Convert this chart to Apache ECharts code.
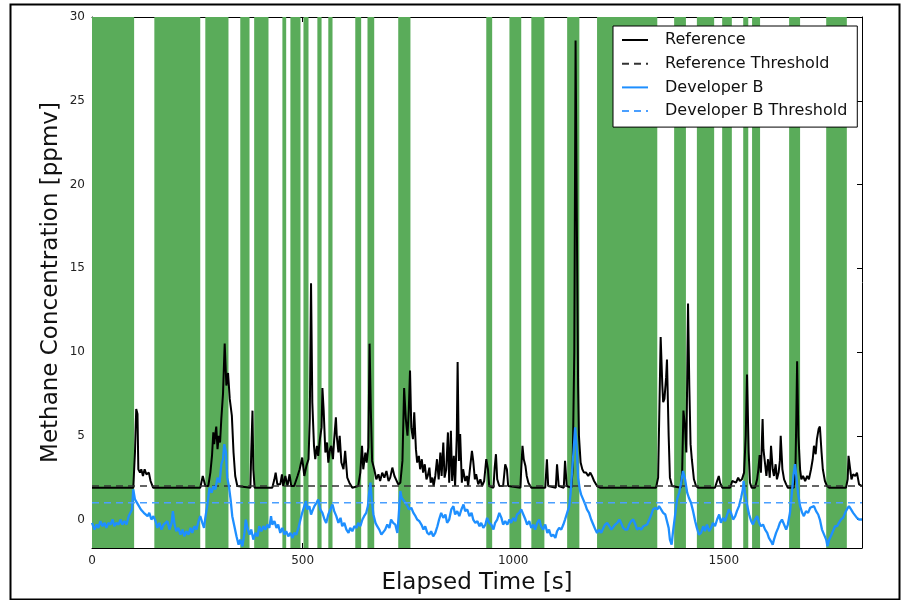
<!DOCTYPE html>
<html>
<head>
<meta charset="utf-8">
<title>Methane Concentration</title>
<script src="https://cdn.jsdelivr.net/npm/echarts@6.0.0/dist/echarts.min.js"></script>
<style>
  html, body { margin: 0; padding: 0; background: #fff; }
  #chart { width: 902px; height: 600px; }
</style>
</head>
<body>
<div id="chart"></div>
<script>
// ---- data ----
const timeMin = 0;
const timeMax = 1828;
const concMin = -1.7;
const concMax = 30;

const xTicks = [0, 500, 1000, 1500];
const yTicks = [0, 5, 10, 15, 20, 25, 30];

// intervals (s) shaded green
const bandStart = [0, 148, 269, 352, 385, 452, 471, 502, 535, 561, 625, 654, 727,
  936, 991, 1043, 1128, 1199, 1382, 1436, 1496, 1546, 1567, 1655, 1743];
const bandEnd = [100, 257, 324, 374, 419, 461, 495, 514, 545, 571, 639, 670, 756,
  950, 1019, 1074, 1157, 1342, 1410, 1477, 1519, 1558, 1586, 1681, 1792];

const refThreshold = 2.0;
const devThreshold = 1.0;

// Reference analyser
const refTime = [0, 98, 102, 105, 108, 110, 114, 117, 121, 125, 129, 135, 139, 145, 257, 263, 269, 276, 281, 285,
  288, 290, 295, 298, 301, 304, 307, 311, 315, 319, 323, 327, 332, 336, 340, 345, 349, 376, 378, 381,
  383, 386, 428, 433, 436, 440, 447, 451, 454, 459, 464, 469, 473, 480, 488, 493, 499, 504, 509, 514,
  517, 520, 523, 527, 530, 534, 537, 541, 545, 547, 550, 554, 558, 561, 565, 568, 572, 575, 579, 581,
  585, 588, 592, 597, 601, 606, 611, 618, 632, 637, 641, 644, 649, 652, 656, 659, 662, 665, 670, 675,
  680, 684, 689, 694, 699, 704, 708, 713, 718, 722, 727, 732, 737, 741, 745, 749, 752, 755, 758, 762,
  765, 769, 772, 776, 779, 783, 786, 790, 794, 797, 801, 804, 808, 811, 815, 819, 823, 827, 830, 834,
  837, 841, 845, 848, 852, 855, 859, 862, 866, 868, 871, 874, 878, 881, 886, 890, 893, 898, 902, 905,
  909, 912, 917, 922, 926, 931, 936, 940, 943, 953, 956, 959, 962, 967, 976, 981, 985, 988, 1017, 1019,
  1022, 1025, 1029, 1032, 1036, 1043, 1076, 1080, 1083, 1101, 1104, 1108, 1120, 1123, 1127, 1138, 1141, 1145, 1148, 1151,
  1154, 1156, 1160, 1164, 1168, 1173, 1178, 1183, 1187, 1192, 1199, 1206, 1339, 1344, 1348, 1350, 1354, 1356, 1359, 1363,
  1365, 1369, 1372, 1377, 1381, 1398, 1401, 1404, 1408, 1411, 1415, 1418, 1421, 1424, 1429, 1434, 1439, 1479, 1484, 1488,
  1491, 1496, 1515, 1520, 1524, 1529, 1534, 1538, 1543, 1548, 1552, 1555, 1559, 1562, 1566, 1574, 1579, 1582, 1585, 1588,
  1592, 1594, 1598, 1601, 1605, 1609, 1612, 1616, 1619, 1623, 1626, 1630, 1633, 1635, 1639, 1643, 1648, 1652, 1666, 1670,
  1672, 1674, 1677, 1681, 1684, 1688, 1693, 1698, 1702, 1707, 1711, 1714, 1718, 1721, 1725, 1728, 1732, 1735, 1740, 1745,
  1750, 1790, 1794, 1796, 1800, 1803, 1807, 1812, 1816, 1821, 1828];
const refConc = [1.9, 1.9, 4.0, 6.6, 6.3, 3.0, 2.8, 3.0, 2.6, 3.0, 2.7, 2.8, 2.3, 1.9, 1.9, 2.6, 2.0, 2.0, 2.8, 3.85,
  5.2, 4.5, 5.55, 4.2, 5.0, 4.6, 6.0, 7.5, 10.5, 8.0, 8.75, 7.2, 6.2, 4.0, 2.6, 2.0, 1.9, 1.9, 4.0, 6.5,
  3.0, 1.9, 1.9, 2.4, 2.8, 2.1, 2.1, 2.7, 2.0, 2.6, 2.0, 2.7, 2.0, 2.0, 2.6, 3.0, 3.7, 2.6, 3.2, 3.6,
  6.0, 14.1, 7.0, 4.4, 3.6, 4.4, 3.8, 4.8, 5.5, 7.85, 6.5, 4.0, 4.6, 3.4, 4.2, 4.4, 3.6, 4.8, 6.1, 5.0,
  4.0, 5.0, 3.4, 3.0, 4.1, 2.5, 2.2, 1.9, 2.0, 2.8, 4.4, 3.0, 4.0, 3.4, 4.3, 10.5, 6.5, 3.5, 3.0, 2.4,
  2.7, 2.3, 2.8, 2.5, 2.9, 2.3, 2.5, 3.1, 2.6, 2.7, 2.1, 2.2, 3.5, 7.85, 6.0, 5.0, 6.5, 8.9, 5.5, 4.8,
  6.4, 4.2, 3.4, 3.8, 3.0, 3.6, 2.8, 3.3, 2.4, 2.6, 3.1, 2.2, 2.5, 2.0, 2.6, 3.6, 2.4, 4.0, 2.6, 4.6,
  2.5, 3.0, 5.2, 2.2, 5.3, 2.3, 3.8, 2.0, 5.0, 9.4, 3.5, 5.1, 2.2, 3.0, 2.3, 2.6, 2.0, 3.2, 4.1, 3.5,
  2.4, 2.7, 2.1, 2.4, 2.0, 2.3, 3.6, 3.0, 2.0, 1.9, 3.1, 3.9, 2.4, 2.0, 2.0, 3.3, 3.0, 2.0, 1.9, 3.0,
  4.4, 3.6, 3.2, 2.6, 2.2, 1.9, 1.9, 3.6, 2.0, 1.9, 3.3, 2.0, 1.9, 3.5, 2.0, 1.9, 3.0, 10.0, 28.6, 18.0,
  8.0, 5.0, 3.4, 3.0, 2.8, 2.8, 2.6, 2.8, 2.6, 2.3, 2.0, 1.9, 1.9, 2.5, 8.0, 10.9, 8.0, 7.0, 7.2, 8.5,
  9.55, 5.0, 2.5, 2.0, 1.9, 1.9, 2.8, 6.5, 5.5, 4.0, 12.9, 8.0, 4.5, 3.6, 2.4, 2.0, 1.9, 1.9, 2.3, 2.6,
  2.2, 1.9, 1.9, 2.3, 2.4, 2.2, 2.5, 2.3, 2.4, 2.8, 5.0, 8.65, 4.0, 2.2, 1.9, 1.9, 2.4, 3.0, 3.85, 2.8,
  6.0, 4.2, 3.3, 2.6, 3.6, 2.5, 4.4, 3.0, 2.6, 3.3, 2.4, 2.8, 3.5, 5.0, 3.0, 2.4, 2.1, 1.9, 1.9, 3.0,
  6.0, 9.45, 5.0, 3.0, 2.4, 2.6, 2.3, 2.6, 2.4, 3.0, 3.6, 4.4, 3.9, 4.8, 5.4, 5.55, 4.0, 3.0, 2.3, 2.0,
  1.9, 1.9, 2.4, 3.8, 3.0, 2.4, 2.7, 2.6, 2.8, 2.1, 2.0];

// Developer B sensor
const devTime = [0, 6, 11, 15, 20, 25, 30, 34, 39, 44, 49, 53, 58, 63, 68, 72, 77, 82, 87, 91,
  95, 98, 102, 106, 109, 113, 116, 120, 123, 127, 132, 136, 141, 146, 151, 155, 160, 165, 170, 174,
  179, 184, 189, 192, 196, 200, 205, 210, 215, 219, 224, 229, 234, 238, 243, 248, 253, 257, 262, 266,
  269, 274, 279, 284, 288, 293, 298, 303, 307, 311, 314, 318, 321, 325, 329, 333, 338, 343, 348, 352,
  357, 362, 365, 369, 374, 378, 383, 388, 393, 397, 402, 407, 412, 416, 421, 425, 428, 433, 438, 442,
  447, 452, 457, 461, 466, 471, 476, 480, 485, 490, 495, 499, 504, 508, 511, 516, 520, 523, 528, 533,
  537, 542, 547, 552, 556, 561, 566, 571, 575, 580, 585, 590, 594, 599, 604, 609, 613, 618, 623, 628,
  632, 637, 642, 646, 651, 655, 658, 661, 664, 668, 673, 677, 682, 687, 691, 696, 701, 706, 710, 715,
  720, 725, 728, 732, 735, 739, 744, 749, 753, 758, 763, 768, 772, 777, 782, 787, 791, 796, 801, 805,
  810, 815, 820, 824, 829, 834, 839, 843, 848, 853, 858, 862, 867, 872, 877, 882, 886, 891, 896, 901,
  905, 910, 915, 920, 924, 929, 934, 938, 943, 948, 953, 957, 962, 967, 972, 976, 981, 986, 991, 995,
  1000, 1005, 1009, 1014, 1019, 1024, 1029, 1033, 1038, 1043, 1048, 1052, 1057, 1062, 1066, 1071, 1076, 1081, 1085, 1090,
  1095, 1100, 1104, 1109, 1114, 1119, 1123, 1128, 1133, 1136, 1140, 1143, 1147, 1151, 1154, 1158, 1161, 1166, 1171, 1175,
  1180, 1185, 1190, 1195, 1199, 1204, 1209, 1214, 1218, 1223, 1228, 1233, 1237, 1242, 1247, 1252, 1256, 1261, 1266, 1271,
  1275, 1280, 1285, 1290, 1294, 1299, 1304, 1309, 1313, 1318, 1323, 1328, 1332, 1337, 1342, 1346, 1351, 1356, 1361, 1365,
  1369, 1372, 1376, 1379, 1384, 1389, 1394, 1398, 1403, 1408, 1413, 1417, 1422, 1427, 1432, 1436, 1441, 1446, 1451, 1455,
  1460, 1465, 1470, 1474, 1479, 1484, 1489, 1493, 1498, 1503, 1508, 1512, 1517, 1522, 1527, 1531, 1536, 1541, 1545, 1547,
  1550, 1555, 1560, 1565, 1569, 1574, 1579, 1584, 1588, 1593, 1598, 1603, 1607, 1612, 1616, 1619, 1624, 1629, 1633, 1638,
  1643, 1648, 1652, 1657, 1662, 1665, 1669, 1672, 1676, 1681, 1686, 1690, 1695, 1700, 1705, 1709, 1714, 1719, 1724, 1728,
  1733, 1738, 1743, 1746, 1750, 1754, 1759, 1764, 1769, 1773, 1778, 1783, 1788, 1792, 1797, 1802, 1807, 1811, 1816, 1821,
  1826, 1828];
const devConc = [-0.2, -0.6, -0.3, -0.5, -0.1, -0.4, -0.2, -0.5, -0.2, -0.3, 0.0, -0.4, -0.2, -0.3, 0.0, -0.3, -0.1, -0.3, 0.2, 0.1,
  0.6, 1.8, 1.2, 1.3, 0.9, 1.0, 0.6, 0.7, 0.4, 0.5, 0.2, 0.4, 0.0, 0.2, -0.1, -0.5, -0.2, -0.6, -0.3, -0.4,
  -0.1, -0.6, -0.2, 0.5, -0.3, -0.7, -0.5, -0.9, -0.6, -1.0, -0.7, -0.9, -0.5, -0.8, -0.4, -0.6, -0.1, 0.2, -0.2, -0.5,
  0.1, 0.9, 1.9, 1.6, 2.0, 1.8, 2.5, 2.2, 3.3, 3.6, 4.5, 4.0, 2.5, 2.0, 1.2, 0.2, -0.4, -1.0, -1.5, -1.2,
  -1.6, -0.8, 0.0, -0.5, -0.9, -0.6, -1.2, -0.8, -1.0, -0.4, -0.7, -0.4, -0.6, -0.3, -0.5, 0.2, -0.3, -0.1, -0.5, -0.3,
  -0.8, -0.5, -0.9, -0.7, -1.0, -0.8, -1.1, -0.8, -0.9, -0.5, 0.0, 0.4, 0.8, 1.1, 0.6, 0.8, 0.3, 0.5, 0.8, 1.0,
  1.2, 0.6, 0.4, 0.0, -0.2, 0.3, 0.6, 0.9, 0.5, 0.2, -0.2, 0.1, -0.4, -0.2, -0.6, -0.8, -0.5, -0.7, -0.4, -0.5,
  -0.2, -0.4, 0.0, 0.2, 0.4, 0.8, 1.6, 2.2, 1.2, 0.3, -0.2, -0.4, -0.6, -0.9, -1.0, -0.6, -0.3, -0.5, 0.0, -0.2,
  -0.3, -0.8, 0.2, 1.7, 1.3, 1.2, 1.0, 0.8, 0.6, 0.7, 0.4, 0.2, 0.0, -0.1, -0.3, -0.6, -0.4, -0.8, -0.9, -0.7,
  -1.0, -0.8, -0.4, 0.0, 0.4, 0.1, 0.3, -0.2, 0.0, 0.6, 0.8, 0.3, 0.5, 0.2, 0.6, 0.9, 0.5, 0.6, 0.2, 0.4,
  0.0, -0.2, -0.1, -0.4, -0.2, -0.5, -0.3, 0.1, -0.2, -0.3, -0.6, -0.2, 0.0, 0.4, 0.1, -0.3, -0.1, -0.3, 0.0, -0.2,
  0.1, -0.1, 0.3, 0.4, 0.6, 0.3, 0.0, -0.3, -0.1, -0.5, -0.3, -0.6, -0.2, 0.0, -0.4, -0.6, -0.3, -0.8, -0.6, -1.0,
  -0.9, -1.1, -0.7, -0.5, -0.6, -0.3, 0.0, 0.4, 0.8, 1.5, 3.0, 4.0, 5.5, 4.2, 2.5, 1.8, 1.5, 1.2, 0.9, 0.6,
  0.4, 0.0, -0.3, -0.6, -0.8, -0.6, -0.8, -0.5, -0.3, -0.2, -0.4, -0.6, -0.6, -0.3, -0.2, 0.0, -0.2, -0.5, -0.6, -0.6,
  -0.3, -0.1, 0.0, -0.3, -0.6, -0.5, -0.6, -0.4, -0.4, -0.3, 0.0, 0.3, 0.6, 0.7, 0.6, 0.8, 0.6, 0.4, 0.3, 0.2,
  -0.5, -1.2, -1.5, -0.8, 0.2, 1.2, 1.6, 2.1, 2.9, 2.4, 1.6, 1.3, 1.0, 0.5, -0.1, -0.5, -0.9, -0.8, -0.4, -0.7,
  -0.3, -0.7, -0.5, -0.2, -0.4, 0.0, 0.3, -0.2, 0.1, -0.1, 0.3, 0.6, 0.4, 0.0, 0.2, 0.5, 0.8, 1.3, 1.8, 2.3,
  1.6, 0.9, 0.3, -0.1, -0.3, 0.0, 0.2, -0.2, -0.4, -0.3, -0.6, -0.8, -1.1, -1.3, -1.5, -1.2, -0.8, -0.5, -0.2, 0.0,
  -0.3, -0.6, -0.3, 0.4, 1.7, 2.6, 3.3, 2.6, 1.6, 0.8, 0.4, 0.2, 0.5, 0.4, 0.7, 0.6, 0.8, 0.5, 0.3, 0.0,
  -0.6, -0.9, -1.2, -1.6, -1.2, -1.0, -0.7, -0.4, -0.4, -0.2, 0.0, 0.1, 0.4, 0.6, 0.8, 0.6, 0.4, 0.3, 0.1, 0.0,
  0.0, 0.0];

// ---- chart ----
const FONT = 'DejaVu Sans';
const pairs = (ts, vs) => ts.map((t, i) => [t, vs[i]]);
const plainNumber = (v) => String(v);

const chart = echarts.init(document.getElementById('chart'), null, { renderer: 'canvas' });

const axisLineStyle = { show: true, onZero: false, lineStyle: { color: '#000', width: 1 } };

chart.setOption({
  animation: false,
  backgroundColor: '#fff',
  textStyle: { fontFamily: FONT },
  grid: { left: 92, right: 40, top: 17, bottom: 52, containLabel: false },
  graphic: [{
    type: 'rect',
    left: 8, top: 2,
    shape: { x: 0, y: 0, width: 889, height: 595 },
    style: { fill: 'none', stroke: '#000', lineWidth: 2 },
    silent: true, z: 100
  }],
  legend: {
    orient: 'vertical',
    left: 613, top: 26,
    backgroundColor: '#fff',
    borderColor: '#000', borderWidth: 1, borderRadius: 0,
    padding: [6, 10, 8, 8],
    itemWidth: 26, itemHeight: 14, itemGap: 7.7,
    // only the line sample is shown, no marker
    itemStyle: { opacity: 0 },
    textStyle: { fontFamily: FONT, fontSize: 16, lineHeight: 14, color: '#111', padding: [0, 0, 0, 12] },
    data: ['Reference', 'Reference Threshold', 'Developer B', 'Developer B Threshold'],
    selectedMode: false,
    z: 10
  },
  xAxis: [{
    type: 'value', min: timeMin, max: timeMax, position: 'bottom',
    axisLine: axisLineStyle,
    axisTick: { show: true, inside: true, length: 5, customValues: xTicks, lineStyle: { color: '#000' } },
    axisLabel: { customValues: xTicks, formatter: plainNumber, color: '#222', fontSize: 12, margin: 7, fontFamily: FONT },
    splitLine: { show: false },
    name: 'Elapsed Time [s]', nameLocation: 'middle', nameGap: 20,
    nameTextStyle: { fontSize: 23, color: '#111', fontFamily: FONT }
  }, {
    type: 'value', min: timeMin, max: timeMax, position: 'top',
    axisLine: axisLineStyle,
    axisTick: { show: true, inside: true, length: 5, customValues: xTicks, lineStyle: { color: '#000' } },
    axisLabel: { show: false },
    splitLine: { show: false }
  }],
  yAxis: [{
    type: 'value', min: concMin, max: concMax, position: 'left',
    axisLine: axisLineStyle,
    axisTick: { show: true, inside: true, length: 5, customValues: yTicks, lineStyle: { color: '#000' } },
    axisLabel: { customValues: yTicks, formatter: plainNumber, color: '#222', fontSize: 12, margin: 7, fontFamily: FONT },
    splitLine: { show: false },
    name: 'Methane Concentration [ppmv]', nameLocation: 'middle', nameGap: 29,
    nameMoveOverlap: false,
    nameTextStyle: { fontSize: 23, color: '#111', fontFamily: FONT }
  }, {
    type: 'value', min: concMin, max: concMax, position: 'right',
    axisLine: axisLineStyle,
    axisTick: { show: true, inside: true, length: 5, customValues: yTicks, lineStyle: { color: '#000' } },
    axisLabel: { show: false },
    splitLine: { show: false }
  }],
  series: [
    {
      name: 'bands',
      type: 'custom',
      silent: true,
      z: 1,
      data: bandStart.map((s, i) => [s, bandEnd[i]]),
      encode: { x: [0, 1] },
      renderItem: (params, api) => {
        const x0 = api.coord([api.value(0), 0])[0];
        const x1 = api.coord([api.value(1), 0])[0];
        const cs = params.coordSys;
        return {
          type: 'rect',
          shape: { x: x0, y: cs.y, width: x1 - x0, height: cs.height },
          style: { fill: '#5aac5a' }
        };
      }
    },
    {
      name: 'Reference',
      type: 'line', z: 3,
      data: pairs(refTime, refConc),
      symbol: 'none', showSymbol: false,
      lineStyle: { color: '#000', width: 2 },
      itemStyle: { color: '#000' }
    },
    {
      name: 'Reference Threshold',
      type: 'line', z: 3,
      data: [[timeMin, refThreshold], [timeMax, refThreshold]],
      symbol: 'none', showSymbol: false,
      lineStyle: { color: '#333', width: 1.5, type: [7, 5] },
      itemStyle: { color: '#333' }
    },
    {
      name: 'Developer B',
      type: 'line', z: 4,
      data: pairs(devTime, devConc),
      symbol: 'none', showSymbol: false,
      lineStyle: { color: '#1e8fff', width: 2.3 },
      itemStyle: { color: '#1e8fff' }
    },
    {
      name: 'Developer B Threshold',
      type: 'line', z: 4,
      data: [[timeMin, devThreshold], [timeMax, devThreshold]],
      symbol: 'none', showSymbol: false,
      lineStyle: { color: '#4a9fff', width: 1.5, type: [7, 5] },
      itemStyle: { color: '#4a9fff' }
    }
  ]
});
</script>
</body>
</html>
